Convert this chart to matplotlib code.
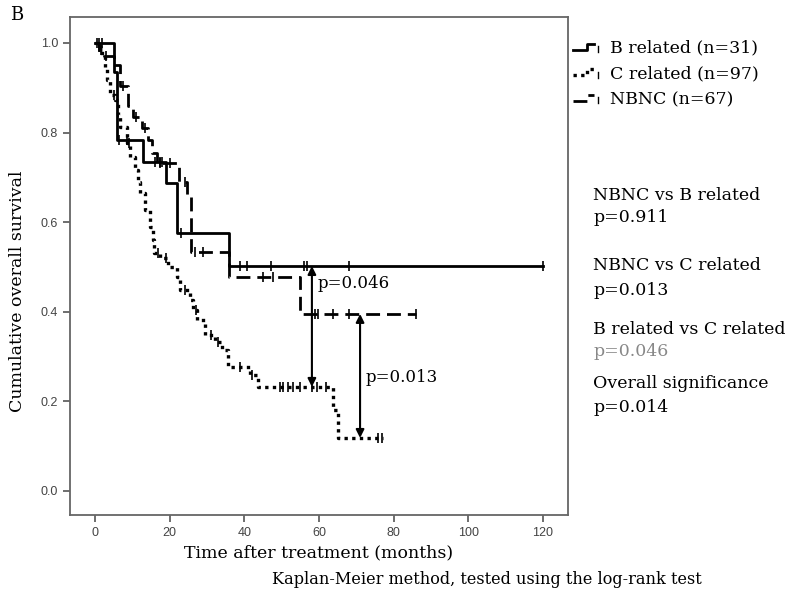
import numpy as np
import matplotlib
matplotlib.use("Agg")
import matplotlib.pyplot as plt
from matplotlib.lines import Line2D
from matplotlib.legend_handler import HandlerBase

# Datos (Kaplan-Meier)
b_times = [0, 5.1, 6.0, 12.9, 19.0, 22.0, 36.0]
b_surv = [1.0, 0.935, 0.783, 0.734, 0.688, 0.576, 0.502]
b_end = 120.0
b_cens = [1.0, 2.0, 6.5, 8.5, 16.0, 17.5, 18.0, 23.0, 38.8, 40.7, 47.2, 56.0, 56.8, 68.0, 120.0]

nb_times = [0, 1.0, 2.5, 5.0, 6.7, 8.8, 10.2, 12.6, 14.2, 15.3, 16.6, 22.5, 24.7, 25.7, 36.0, 55.0]
nb_surv = [1.0, 0.985, 0.97, 0.951, 0.904, 0.859, 0.835, 0.810, 0.783, 0.754, 0.732, 0.690, 0.656, 0.533, 0.477, 0.395]
nb_end = 86.0
nb_cens = [1.5, 3.0, 7.5, 11.0, 13.5, 17.5, 20.0, 24.0, 26.8, 29.0, 45.0, 47.7, 59.0, 59.7, 63.8, 68.0, 86.0]

c_times = [0, 0.8, 2.0, 2.7, 3.2, 4.0, 5.4, 6.2, 6.7, 8.6, 9.4, 10.7, 11.5, 12.1, 13.4, 14.7, 15.5, 15.8,
           17.4, 19.6, 22.0, 22.8, 25.4, 26.3, 27.3, 29.5, 32.1, 34.0, 35.6, 41.5, 43.7, 63.8, 65.1]
c_surv = [1.0, 0.99, 0.97, 0.946, 0.917, 0.884, 0.873, 0.839, 0.813, 0.777, 0.746, 0.717, 0.690, 0.665,
          0.627, 0.589, 0.560, 0.531, 0.520, 0.500, 0.478, 0.449, 0.426, 0.404, 0.382, 0.348, 0.333,
          0.315, 0.277, 0.259, 0.232, 0.181, 0.118]
c_end = 77.1
c_cens = [0.5, 1.2, 5.0, 9.0, 17.0, 19.0, 24.0, 27.0, 31.0, 33.0, 38.8, 42.0, 49.6, 50.4, 51.7, 53.0,
          55.0, 58.0, 59.5, 62.0, 75.8, 76.9]

labels = ["B related (n=31)", "C related (n=97)", "NBNC (n=67)"]

# flechas con p-valores (x, y abajo, y arriba, texto)
arrow_x = [58.1, 71.0]
arrow_lo = [0.232, 0.118]
arrow_hi = [0.502, 0.395]
arrow_txt = ["p=0.046", "p=0.013"]
arrow_txt_y = [0.462, 0.254]

side_txt = ["NBNC vs B related", "p=0.911", "NBNC vs C related", "p=0.013",
            "B related vs C related", "p=0.046", "Overall significance", "p=0.014"]
side_y = [195, 218, 266, 290, 329, 352, 384, 408]
side_col = ["black", "black", "black", "black", "black", "#888888", "black", "black"]

SERIF = "DejaVu Serif"

def step_at(times, surv, t):
    idx = np.searchsorted(times, t, side="right") - 1
    return np.array(surv)[idx]

# icono de leyenda en forma de escalón
class StepHandler(HandlerBase):
    def create_artists(self, legend, orig, xd, yd, width, height, fontsize, trans):
        x0, y0 = -xd, -yd
        xs = [x0, x0 + 0.55 * width, x0 + 0.55 * width, x0 + 0.85 * width]
        ys = [y0 + 0.25 * height, y0 + 0.25 * height, y0 + 0.75 * height, y0 + 0.75 * height]
        l1 = Line2D(xs, ys)
        l1.update_from(orig)
        l1.set_data(xs, ys)
        l2 = Line2D([x0 + width, x0 + width], [y0 + 0.05 * height, y0 + 0.55 * height], color="black", lw=1)
        for l in (l1, l2):
            l.set_transform(trans)
            l.set_clip_on(False)
            l.set_clip_box(None)
            l.set_clip_path(None)
        return [l1, l2]

fig = plt.figure(figsize=(7.92, 6.0), dpi=100)
ax = fig.add_axes([70 / 792, 1 - 515 / 600, 498 / 792, 498 / 600])

styles = [dict(ls="-", lw=2.0), dict(ls=(0, (1, 1.3)), lw=2.4), dict(ls=(0, (5, 2.5)), lw=2.0)]
groups = [(b_times, b_surv, b_end, b_cens), (c_times, c_surv, c_end, c_cens), (nb_times, nb_surv, nb_end, nb_cens)]

handles = []
for (t, s, end, cens), st, lab in zip(groups, styles, labels):
    tx = list(t) + [end]
    sy = list(s) + [s[-1]]
    h, = ax.step(tx, sy, where="post", color="black", label=lab, **st)
    handles.append(h)
    ax.plot(cens, step_at(t, s, cens), linestyle="none", marker="|", markersize=7,
            markeredgewidth=1.2, color="black")

for x, lo, hi, txt, ty in zip(arrow_x, arrow_lo, arrow_hi, arrow_txt, arrow_txt_y):
    ax.annotate("", xy=(x, lo), xytext=(x, hi),
                arrowprops=dict(arrowstyle="<|-|>", color="black", lw=1.5, mutation_scale=12,
                                shrinkA=0, shrinkB=0))
    ax.text(x + 1.6, ty, txt, fontsize=12, family=SERIF, va="center", ha="left")

ax.set_xlim(-6.7, 126.7)
ax.set_ylim(-0.054, 1.058)
ax.set_xticks([0, 20, 40, 60, 80, 100, 120])
ax.set_yticks([0.0, 0.2, 0.4, 0.6, 0.8, 1.0])
ax.set_yticklabels(["0.0", "0.2", "0.4", "0.6", "0.8", "1.0"])
ax.tick_params(direction="out", length=5, width=1.2, color="#555555", labelcolor="#444444",
               labelsize=9)
for lab in ax.get_xticklabels() + ax.get_yticklabels():
    lab.set_family("Liberation Sans")
for sp in ax.spines.values():
    sp.set_color("#666666")
    sp.set_linewidth(1.3)

ax.set_xlabel("Time after treatment (months)", fontsize=12.5, family=SERIF)
ax.xaxis.set_label_coords(0.5, -0.058)
ax.set_ylabel("Cumulative overall survival", fontsize=12.5, family=SERIF)
ax.yaxis.set_label_coords(-0.088, 0.45)

ax.legend(handles=handles, handler_map={Line2D: StepHandler()}, loc="upper left",
          bbox_to_anchor=(1.0, 0.965), frameon=False, prop={"family": SERIF, "size": 12.5},
          handlelength=1.4, handletextpad=0.7, labelspacing=0.5, borderaxespad=0.1,
          borderpad=0.2)

for txt, y, col in zip(side_txt, side_y, side_col):
    fig.text(593 / 792, 1 - y / 600, txt, fontsize=12.5, family=SERIF, color=col, va="center", ha="left")

fig.text(272 / 792, 1 - 580 / 600, "Kaplan-Meier method, tested using the log-rank test",
         fontsize=11.6, family=SERIF, va="center", ha="left")
fig.text(10 / 792, 1 - 15 / 600, "B", fontsize=13, family=SERIF, va="center", ha="left")

fig.savefig("out.png", dpi=100)
